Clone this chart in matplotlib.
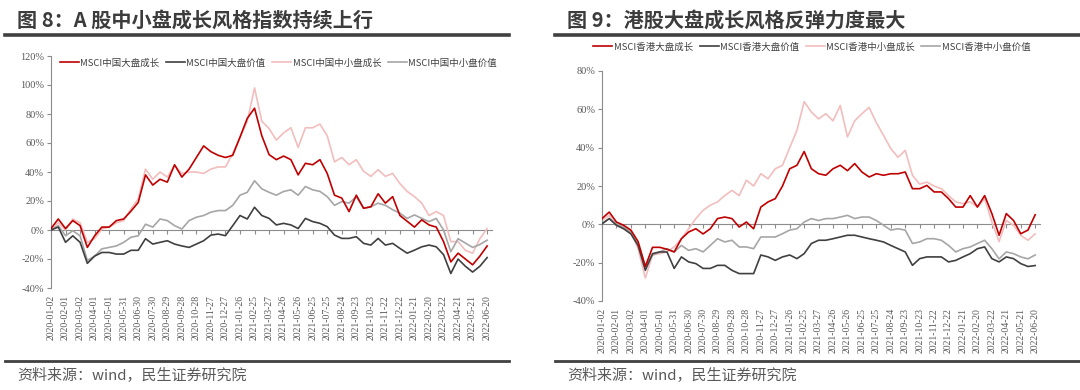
import pandas as pd
import matplotlib
matplotlib.use("Agg")
import matplotlib.pyplot as plt
import matplotlib.dates as mdates
from matplotlib.lines import Line2D

plt.rcParams['font.family'] = ['Noto Sans CJK SC', 'DejaVu Sans']

# sampling dates (every 15 days from 2020-01-02 to 2022-06-20)
dates = pd.date_range('2020-01-02', periods=61, freq='15D')

tick_labels = ['2020-01-02', '2020-02-01', '2020-03-02', '2020-04-01', '2020-05-01', '2020-05-31',
               '2020-06-30', '2020-07-30', '2020-08-29', '2020-09-28', '2020-10-28', '2020-11-27',
               '2020-12-27', '2021-01-26', '2021-02-25', '2021-03-27', '2021-04-26', '2021-05-26',
               '2021-06-25', '2021-07-25', '2021-08-24', '2021-09-23', '2021-10-23', '2021-11-22',
               '2021-12-22', '2022-01-21', '2022-02-20', '2022-03-22', '2022-04-21', '2022-05-21',
               '2022-06-20']

# ---- 图8: A股 (%)
a_names = ['MSCI中国大盘成长', 'MSCI中国大盘价值', 'MSCI中国中小盘成长', 'MSCI中国中小盘价值']
a_large_growth = [1, 7.6, 1, 6.5, 3, -12, -4, 2, 2, 6.5, 7.6, 13, 19, 38, 31, 35, 33, 45, 36.5, 42,
                  50, 58, 54, 51.5, 50, 51.5, 64, 77, 84, 65, 52,
                  48.5, 51, 48.5, 38, 46, 45, 48.5, 39, 24, 22, 12.7, 24, 15, 16, 25, 18.5, 23, 10, 6,
                  2, 7, 3.5, 2, -8, -22, -16, -20, -24, -18, -11]
a_large_value = [0, 2, -8.5, -4, -8.5, -23, -18, -15.5, -15.5, -16.6, -16.6, -14, -14, -6, -9.7, -8.5,
                 -7.4, -9.7, -11, -12, -9.7, -7.4, -3.5, -2.8, -3.9, 3, 10, 7.6, 15.7, 10, 8,
                 3.5, 4.6, 3.5, 1, 8, 5.8, 4.6, 2.3, -3.5, -5.8, -5.8, -4.6, -9.2, -10.4, -5.8, -10.4,
                 -9.2, -12.7, -16, -13.9, -11.6, -10.4, -11.6, -17, -30, -20, -25, -29, -25, -19]
a_small_growth = [0, 5, 0, 7.6, 5, -8.5, -6, 0.7, 2, 5, 6.5, 14.5, 21.5, 42, 35, 40, 36.5, 44.6, 39, 40,
                  40, 39, 42, 43.5, 43.5, 52.7, 64, 75, 98, 75, 70,
                  62, 67, 70.5, 57, 70.5, 70.5, 73, 65, 47, 50, 45, 48.5, 40.5, 37, 41.6, 37, 39, 32,
                  26.6, 23, 18.5, 10, 12.7, 10, -8, -8, -14, -16, -6, 1]
a_small_value = [0, 3, -4, -0.5, -4, -21, -18, -13, -12, -11, -8.5, -5, -4, 4, 2, 7.6, 6.5, 3, 0.7, 6.5,
                 8.8, 10, 12.3, 13.4, 13.4, 17, 24, 26, 34, 28.4, 26,
                 24, 26.6, 27.7, 24, 30, 27.7, 26.6, 23, 17, 19.6, 18.5, 23, 15, 16, 18.5, 17, 14, 11.6,
                 8, 10.4, 8, 5.8, 8, 0, -15, -6, -9, -12, -10, -7]

# ---- 图9: 港股 (%)
h_names = ['MSCI香港大盘成长', 'MSCI香港大盘价值', 'MSCI香港中小盘成长', 'MSCI香港中小盘价值']
h_large_growth = [3, 6.4, 1.2, -0.5, -3, -9, -22, -12, -12, -13, -14.4, -7.5, -4, -2.3, -5, -2.3, 3,
                  3.8, 3, -1.4, 1.2, -2.3, 9, 11.7, 13.4, 20, 29, 30.8, 38, 29, 26.4,
                  25.6, 29, 30.8, 28, 31.7, 27.3, 24.7, 26.4, 25.6, 26.4, 26.4, 27.3, 18.6, 18.6, 20.3,
                  16.9, 16.9, 13.4, 9, 9, 15, 9, 15, 5.6, -5.7, 5.6, 2, -4.9, -3, 5]
h_large_value = [0.3, 3, -0.5, -2.3, -5, -11, -24, -15.3, -14.4, -14.4, -23, -17, -19.6, -20.5, -23,
                 -23, -21.4, -21.4, -24, -25.7, -25.7, -25.7, -16, -17, -18.8, -17, -16, -17.9, -15.3,
                 -10, -8.3,
                 -8.3, -7.5, -6.6, -5.7, -5.7, -6.6, -7.5, -8.3, -9.2, -11, -12.7, -14.4, -21.4, -17.9,
                 -17, -17, -17, -19.6, -18.8, -17, -15.3, -12.7, -11.8, -17.9, -19.6, -17, -17.9, -20.5,
                 -22, -21.5]
h_small_growth = [2, 4.7, -0.5, -2.3, -4, -12.7, -28, -16, -15.3, -14.4, -11.8, -7.5, -2.3, 3, 7.3, 10,
                  11.7, 15, 17.7, 15, 23, 20, 26.4, 23.8, 29, 30.8, 40, 49, 64, 58.6, 55,
                  57.7, 54, 62, 45.6, 54, 57.7, 61, 53, 46.4, 39.5, 35, 38.6, 25.6, 21, 22, 20, 18.6,
                  15, 11.7, 10.8, 11.7, 9, 13.4, 1.2, -9, 2, -0.5, -5.7, -8.3, -5]
h_small_value = [0.3, 3, 0.3, -1.4, -4, -11, -22, -16, -14.4, -12.7, -14.4, -11, -13.6, -12.7, -14.4,
                 -11, -7.5, -9.2, -8.3, -11.8, -11.8, -12.7, -6.6, -6.6, -6.6, -4.9, -3, -2.3, 1.2, 3, 2,
                 3, 3, 3.8, 4.7, 3, 3.8, 3.8, 2, -0.5, -3, -2.3, -3, -10, -9.2, -7.5, -7.5, -8.3, -11,
                 -14.4, -12.7, -11.8, -10, -8.3, -12.7, -18, -14.4, -15.3, -17, -18, -16]

colors = ['#C00000', '#404040', '#F2BDBD', '#A6A6A6']
zorders = [4, 3, 2, 2]
axis_color = '#8C8C8C'
text_color = '#595959'

x = mdates.date2num(dates)
xt = mdates.date2num(pd.to_datetime(tick_labels))
x0 = x[0]

fig = plt.figure(figsize=(10.8, 3.9), dpi=100)


def px(v, total):
    return v / total


def panel(rect, series, names, ylim, title, title_x, line_x, legend_anchor, legend_loc):
    ax = fig.add_axes(rect)
    for s, name, c, z in zip(series, names, colors, zorders):
        ax.plot(x, s, color=c, lw=1.2, label=name, zorder=z)
    ax.set_xlim(x0, x0 + 910)
    ax.set_ylim(*ylim)
    yt = list(range(ylim[0], ylim[1] + 1, 20))
    ax.set_yticks(yt)
    ax.set_yticklabels([f'{v}%' for v in yt], family='Liberation Serif', fontsize=7.5, color=text_color)
    ax.set_xticks(xt)
    ax.set_xticklabels(tick_labels, rotation=90, family='Liberation Serif', fontsize=7, color=text_color)
    ax.tick_params(axis='x', length=0, pad=5)
    ax.tick_params(axis='y', direction='out', length=3, color=axis_color, pad=2)
    for sp in ['top', 'right', 'bottom']:
        ax.spines[sp].set_visible(False)
    ax.spines['left'].set_color(axis_color)
    ax.spines['left'].set_linewidth(0.8)
    # horizontal axis crossing at 0
    frac0 = (0 - ylim[0]) / (ylim[1] - ylim[0])
    sec = ax.secondary_xaxis(frac0)
    sec.set_xticks(xt)
    sec.tick_params(direction='out', length=3, color=axis_color, labelbottom=False, labeltop=False)
    for sp in sec.spines.values():
        sp.set_color(axis_color)
        sp.set_linewidth(0.8)
    ax.legend(loc=legend_loc, bbox_to_anchor=legend_anchor, bbox_transform=fig.transFigure, ncol=4,
              frameon=False, fontsize=6.8, handlelength=2.0, handletextpad=0.15, columnspacing=0.7,
              borderpad=0, borderaxespad=0, labelcolor='#404040')
    fig.text(px(title_x, 1080), 1 - px(20, 390), title, fontsize=14.5, weight='bold',
             color='#3C3C3C', va='center')
    fig.add_artist(Line2D([px(line_x[0], 1080), px(line_x[1], 1080)], [1 - px(35, 390)] * 2,
                          lw=2.6, color='#404040'))
    fig.add_artist(Line2D([px(line_x[0], 1080), px(line_x[1], 1080)], [1 - px(361, 390)] * 2,
                          lw=2.0, color='#404040'))
    fig.text(px(title_x, 1080), 1 - px(376, 390), '资料来源：wind，民生证券研究院', fontsize=10.8,
             color=text_color, va='center')
    return ax


panel([px(51, 1080), px(102, 390), px(441, 1080), px(232, 390)],
      [a_large_growth, a_large_value, a_small_growth, a_small_value], a_names, (-40, 120),
      '图 8：A 股中小盘成长风格指数持续上行', 17, (5, 509),
      (px(60, 1080), 1 - px(63, 390)), 'center left')

panel([px(602, 1080), px(89, 390), px(438, 1080), px(230, 390)],
      [h_large_growth, h_large_value, h_small_growth, h_small_value], h_names, (-40, 80),
      '图 9：港股大盘成长风格反弹力度最大', 567, (555, 1080),
      (px(812, 1080), 1 - px(47, 390)), 'center')

fig.savefig('out.png', dpi=100)
